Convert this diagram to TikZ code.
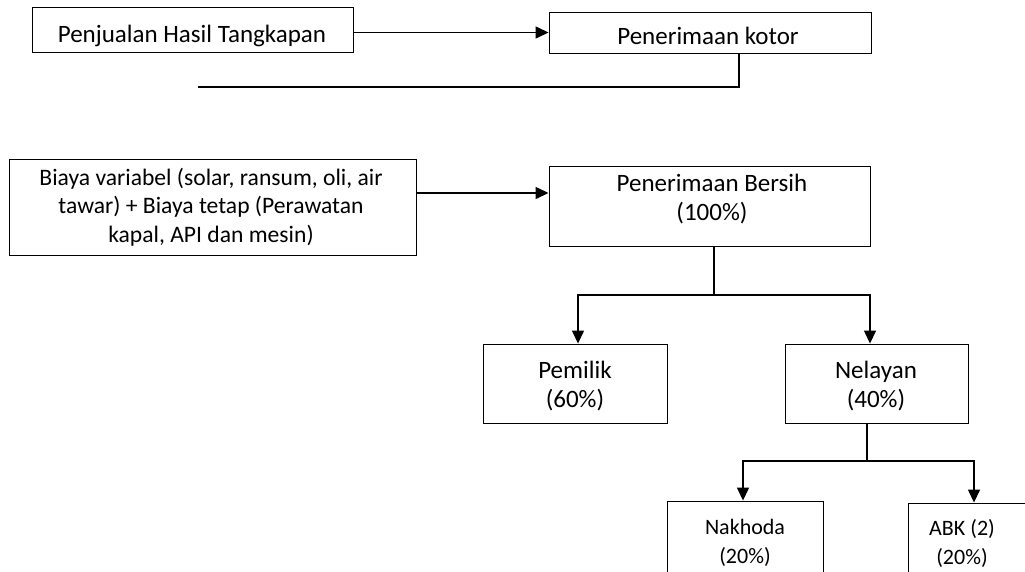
\documentclass[tikz,border=0pt]{standalone}
\usepackage{fontspec}
\setmainfont{Carlito}
\usetikzlibrary{arrows.meta}

\begin{document}
\begin{tikzpicture}[x=1pt, y=-1pt]
        % Styles for the boxes, the texts and the connectors
        \tikzset{
            kotak/.style={draw, line width=0.9pt, inner sep=0pt},
            tulisan/.style={anchor=base, inner sep=0pt, font=\fontsize{25}{29.5}\selectfont},
            tulisan_kecil/.style={tulisan, font=\fontsize{22}{29}\selectfont},
            garis/.style={line width=1.4pt},
            panah/.style={line width=1.4pt, -{Triangle[length=13pt, width=12pt]}}
        }
        \useasboundingbox (0,0) rectangle (1025,571);
        \clip (0,0) rectangle (1025,571);

        % Top row: sales and gross income
        \node[kotak, minimum width=321pt, minimum height=45pt] (penjualan) at (192.5,29.5) {};
        \begin{scope}
            \clip ([yshift=5pt]penjualan.south west) rectangle (penjualan.north east);
            \node[tulisan] (t-penjualan) at (192,42) {Penjualan Hasil Tangkapan};
        \end{scope}
        \node[kotak, minimum width=322pt, minimum height=41pt] (kotor) at (710,32.5) {};
        \node[tulisan] (t-kotor) at (708,44) {Penerimaan kotor};
        \coordinate (sisa) at (198,87);

        % Middle row: costs and net income
        \node[kotak, minimum width=407pt, minimum height=96pt] (biaya) at (212.5,207) {};
        \begin{scope}
            \clip ([yshift=8pt]biaya.south west) rectangle (biaya.north east);
            \node[tulisan, font=\fontsize{23.6}{28.5}\selectfont] (t-biaya) at (211,185) {\begin{tabular}[t]{@{}c@{}}Biaya variabel (solar, ransum, oli, air\\ tawar) + Biaya tetap (Perawatan\\ kapal, API dan mesin)\end{tabular}};
        \end{scope}
        \node[kotak, minimum width=321pt, minimum height=80pt] (bersih) at (709.5,206) {};
        \node[tulisan] (t-bersih) at (712,191) {\begin{tabular}[t]{@{}c@{}}Penerimaan Bersih\\ (100\%)\end{tabular}};

        % Shares of the net income
        \node[kotak, minimum width=184pt, minimum height=79pt] (pemilik) at (575,383.5) {};
        \node[tulisan] (t-pemilik) at (575,378) {\begin{tabular}[t]{@{}c@{}}Pemilik\\ (60\%)\end{tabular}};
        \node[kotak, minimum width=183pt, minimum height=79pt] (nelayan) at (876.5,383.5) {};
        \node[tulisan] (t-nelayan) at (876,378) {\begin{tabular}[t]{@{}c@{}}Nelayan\\ (40\%)\end{tabular}};
        \coordinate (cabang1) at (714,295);

        % Shares of the fishermen
        \node[kotak, minimum width=156pt, minimum height=100pt] (nakhoda) at (745,551) {};
        \node[tulisan_kecil] (t-nakhoda) at (745,534) {\begin{tabular}[t]{@{}c@{}}Nakhoda\\ (20\%)\end{tabular}};
        \node[kotak, minimum width=156pt, minimum height=100pt] (abk) at (986,553) {};
        \node[tulisan_kecil] (t-abk) at (962,535) {\begin{tabular}[t]{@{}c@{}}ABK (2)\\ (20\%)\end{tabular}};
        \coordinate (cabang2) at (867,461);

        % Connectors
        \draw[panah] (penjualan.east |- kotor.west) -- (kotor.west);
        \draw[garis] ([xshift=29pt]kotor.south) |- (sisa);
        \draw[panah] ([yshift=14pt]biaya.east) -- ([yshift=14pt]biaya.east -| bersih.west);
        \draw[garis] ([xshift=4.5pt]bersih.south) -- (cabang1);
        \draw[panah] (cabang1) -| ([xshift=3pt]pemilik.north);
        \draw[panah] (cabang1) -| ([xshift=-6.5pt]nelayan.north);
        \draw[garis] ([xshift=-9.5pt]nelayan.south) -- (cabang2);
        \draw[panah] (cabang2) -| ([xshift=-2pt]nakhoda.north);
        \draw[panah] (cabang2) -| ([xshift=-12pt]abk.north);
\end{tikzpicture}
\end{document}
